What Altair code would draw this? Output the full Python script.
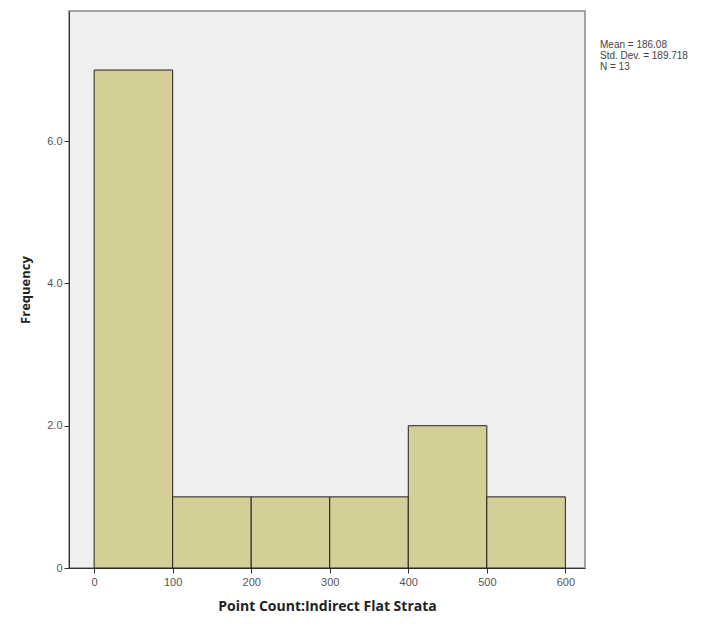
import altair as alt
import pandas as pd

bin_start = [0, 100, 200, 300, 400, 500]
bin_end = [100, 200, 300, 400, 500, 600]
counts = [7, 1, 1, 1, 2, 1]
stats_lines = ["Mean = 186.08", "Std. Dev. = 189.718", "N = 13"]
x_ticks = [0, 100, 200, 300, 400, 500, 600]
y_ticks = [0, 2, 4, 6]

df = pd.DataFrame({"start": bin_start, "end": bin_end, "count": counts})
stats = pd.DataFrame({"line": stats_lines, "i": list(range(len(stats_lines)))})

bars = alt.Chart(df).mark_rect(fill="#d4cf97", stroke="#222222", strokeWidth=1).encode(
    x=alt.X("start:Q",
            scale=alt.Scale(domain=[-32, 625], nice=False, zero=False),
            axis=alt.Axis(values=x_ticks, title="Point Count:Indirect Flat Strata",
                          titleFontSize=14, titleFontWeight="bold", titleFont="Open Sans",
                          titleColor="#222222", titlePadding=12,
                          labelFont="Liberation Sans", labelFontSize=11, labelColor="#555555",
                          tickColor="#333333", tickSize=5, domainColor="#333333",
                          grid=False, labelPadding=3)),
    x2="end:Q",
    y=alt.Y("count:Q",
            scale=alt.Scale(domain=[0, 7.83], nice=False),
            axis=alt.Axis(values=y_ticks, title="Frequency",
                          labelExpr="datum.value == 0 ? '0' : format(datum.value, '.1f')",
                          titleFontSize=13, titleFontWeight="bold", titleFont="Open Sans",
                          titleColor="#222222", titlePadding=14,
                          labelFont="Liberation Sans", labelFontSize=11, labelColor="#555555",
                          tickColor="#333333", tickSize=5, domainColor="#333333",
                          grid=False, labelPadding=2)),
    y2=alt.datum(0),
)

text = alt.Chart(stats).mark_text(align="left", baseline="middle", fontSize=10,
                                  font="Liberation Sans", color="#444444").encode(
    x=alt.value(531),
    y=alt.Y("i:Q", axis=None, scale=alt.Scale(domain=[0, 2], range=[34, 56])),
    text="line:N",
)

chart = alt.layer(bars, text).resolve_scale(y="independent").properties(
    width=516, height=557,
    padding={"left": 61, "top": 3, "right": 130, "bottom": 50},
    autosize=alt.AutoSizeParams(type="none"),
    background="white",
).configure_view(fill="#efefef", stroke="#888888", strokeWidth=1.5)

chart.save("out.html", embed_options={"renderer": "svg", "actions": False})
